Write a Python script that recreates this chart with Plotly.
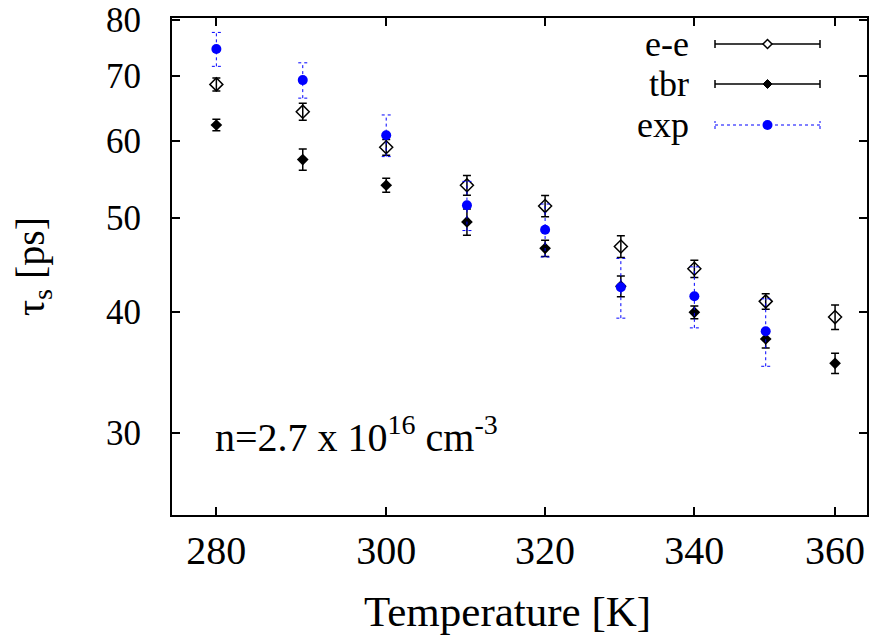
import math
import plotly.graph_objects as go

# ---------------- data ----------------
temps = [280, 290, 300, 310, 320, 330, 340, 350, 360]

ee_vals = [68.6, 64.3, 59.1, 54.0, 51.4, 46.7, 44.3, 41.0, 39.5]
ee_errs = [1.05, 1.3, 1.1, 1.25, 1.3, 1.2, 0.9, 0.75, 1.15]

tbr_vals = [62.3, 57.4, 54.0, 49.5, 46.5, 42.5, 39.95, 37.5, 35.4]
tbr_errs = [0.85, 1.45, 0.9, 1.55, 0.9, 1.05, 0.6, 0.8, 0.85]

exp_temps = [280, 290, 300, 310, 320, 330, 340, 350]
exp_vals = [74.6, 69.3, 60.8, 51.5, 48.6, 42.4, 41.5, 38.2]
exp_errs = [3.0, 2.9, 3.0, 3.0, 3.05, 3.0, 3.0, 3.05]

legend_labels = ["e-e", "tbr", "exp"]
x_ticks = [280, 300, 320, 340, 360]
y_ticks = [30, 40, 50, 60, 70, 80]

FONT = "Liberation Serif, Times New Roman, Times, serif"
BLUE = "#0000ff"

# ---------------- layout geometry ----------------
W, H = 872, 641
ML, MR, MT, MB = 172, 5, 18, 126
PW, PH = W - ML - MR, H - MT - MB
Y_TOP = 80.3


def px2paper(px, py):
    return (px - ML) / PW, (H - MB - py) / PH


fig = go.Figure()

# e-e: open diamonds with black error bars
fig.add_trace(go.Scatter(
    x=temps, y=ee_vals, mode="markers", name=legend_labels[0],
    marker=dict(symbol="diamond-open", size=10, color="black", line=dict(width=1.5, color="black")),
    error_y=dict(type="data", array=ee_errs, color="black", thickness=1.5, width=4),
    showlegend=False,
))

# tbr: filled diamonds
fig.add_trace(go.Scatter(
    x=temps, y=tbr_vals, mode="markers", name=legend_labels[1],
    marker=dict(symbol="diamond", size=9, color="black"),
    error_y=dict(type="data", array=tbr_errs, color="black", thickness=1.5, width=4),
    showlegend=False,
))

# exp: dotted blue error bars built from data
cap = 10 ** (4.5 / 5670.0)  # log-axis cap half width factor
bx, by = [], []
for t, v, e in zip(exp_temps, exp_vals, exp_errs):
    bx += [t, t, None, t / cap, t * cap, None, t / cap, t * cap, None]
    by += [v - e, v + e, None, v - e, v - e, None, v + e, v + e, None]
fig.add_trace(go.Scatter(
    x=bx, y=by, mode="lines", line=dict(color=BLUE, width=1, dash="dot"),
    hoverinfo="skip", showlegend=False,
))
fig.add_trace(go.Scatter(
    x=exp_temps, y=exp_vals, mode="markers", name=legend_labels[2],
    marker=dict(symbol="circle", size=10, color=BLUE),
    showlegend=False,
))

# ---------------- manual legend (gnuplot style: text left, sample right) ----------------
shapes = []
annotations = []
rows_y = [44, 84, 125]
line_x0, line_x1, mark_x, text_x = 715, 820, 767.5, 690
for i, (lab, ly) in enumerate(zip(legend_labels, rows_y)):
    x0p, yp = px2paper(line_x0, ly)
    x1p, _ = px2paper(line_x1, ly)
    mxp, _ = px2paper(mark_x, ly)
    if i < 2:
        lstyle = dict(color="black", width=1.5)
    else:
        lstyle = dict(color=BLUE, width=1, dash="dot")
    shapes.append(dict(type="line", xref="paper", yref="paper", x0=x0p, x1=x1p, y0=yp, y1=yp, line=lstyle))
    for cx in (x0p, x1p):
        shapes.append(dict(type="line", xref="paper", yref="paper", x0=cx, x1=cx,
                           ysizemode="pixel", yanchor=yp, y0=-4, y1=4, line=lstyle))
    if i == 0:
        shapes.append(dict(type="path", xref="paper", yref="paper", xsizemode="pixel", ysizemode="pixel",
                           xanchor=mxp, yanchor=yp, path="M -4.5 0 L 0 4.5 L 4.5 0 L 0 -4.5 Z",
                           fillcolor="white", line=dict(color="black", width=1.5)))
    elif i == 1:
        shapes.append(dict(type="path", xref="paper", yref="paper", xsizemode="pixel", ysizemode="pixel",
                           xanchor=mxp, yanchor=yp, path="M -4.5 0 L 0 4.5 L 4.5 0 L 0 -4.5 Z",
                           fillcolor="black", line=dict(color="black", width=1)))
    else:
        shapes.append(dict(type="circle", xref="paper", yref="paper", xsizemode="pixel", ysizemode="pixel",
                           xanchor=mxp, yanchor=yp, x0=-5, x1=5, y0=-5, y1=5,
                           fillcolor=BLUE, line=dict(color=BLUE, width=0)))
    tx, ty = px2paper(text_x, ly)
    annotations.append(dict(xref="paper", yref="paper", x=tx, y=ty, xanchor="right", yanchor="middle",
                            text=lab, showarrow=False, borderpad=0,
                            font=dict(family=FONT, size=36, color="black")))

# density label
ax_, ay_ = px2paper(213, 462)
annotations.append(dict(xref="paper", yref="paper", x=ax_, y=ay_, xanchor="left", yanchor="bottom",
                        text="n=2.7 x 10<sup>16</sup> cm<sup>-3</sup>", showarrow=False,
                        font=dict(family=FONT, size=40, color="black")))

# axis titles
tx, ty = px2paper(507, 611)
annotations.append(dict(xref="paper", yref="paper", x=tx, y=ty, xanchor="center", yanchor="middle",
                        text="Temperature [K]", showarrow=False, font=dict(family=FONT, size=43, color="black")))
tx, ty = px2paper(33, 267)
annotations.append(dict(xref="paper", yref="paper", x=tx, y=ty, xanchor="center", yanchor="middle",
                        text="τ<sub>s</sub> [ps]", textangle=-90, showarrow=False,
                        font=dict(family=FONT, size=40, color="black")))

fig.update_layout(
    width=W, height=H,
    margin=dict(l=ML, r=MR, t=MT, b=MB, pad=0, autoexpand=False),
    paper_bgcolor="white", plot_bgcolor="white",
    font=dict(family=FONT, color="black"),
    shapes=shapes, annotations=annotations,
    showlegend=False,
)
fig.update_xaxes(
    type="log", range=[math.log10(275), math.log10(364.7)],
    tickvals=x_ticks, ticktext=[str(v) for v in x_ticks],
    ticks="inside", ticklen=8, tickwidth=1.5, tickcolor="black",
    showline=True, linecolor="black", linewidth=2, mirror="ticks",
    showgrid=False, zeroline=False, ticklabelstandoff=-1, automargin=False,
    tickfont=dict(family=FONT, size=40, color="black"),
)
fig.update_yaxes(
    type="log", range=[math.log10(24.7), math.log10(Y_TOP)],
    tickvals=y_ticks, ticktext=[str(v) for v in y_ticks],
    ticks="inside", ticklen=8, tickwidth=1.5, tickcolor="black",
    showline=True, linecolor="black", linewidth=2, mirror="ticks",
    showgrid=False, zeroline=False, ticklabelstandoff=22, ticklabeloverflow="allow",
    automargin=False,
    tickfont=dict(family=FONT, size=35, color="black"),
)

fig.write_html("out.html")
